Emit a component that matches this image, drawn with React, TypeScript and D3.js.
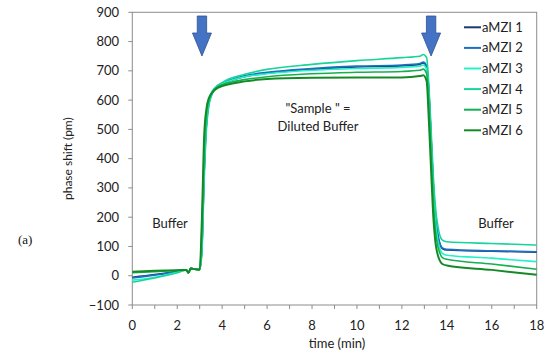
import React from "react";
import * as d3 from "d3";

const times = [0, 1, 2, 2.4, 2.5, 2.6, 2.8, 3.0, 3.1, 3.2, 3.3, 3.4, 3.5, 3.6, 3.8, 4, 5, 6, 8, 10, 12, 12.8, 12.95, 13.1, 13.2, 13.3, 13.4, 13.5, 13.6, 13.7, 13.8, 14, 16, 18];

const aMZI1 = [-5, 4, 15, 20, 10, 25, 22, 21, 100, 355, 518, 586, 613, 630, 648, 656, 680, 692, 705, 713, 717, 722, 727, 714, 628, 468, 308, 198, 138, 106, 93, 88, 84, 80];
const aMZI2 = [-8, 2, 14, 20, 10, 25, 22, 21, 100, 360, 520, 588, 615, 632, 650, 658, 683, 695, 708, 716, 720, 725, 730, 718, 630, 470, 310, 200, 140, 108, 95, 90, 85, 82];
const aMZI3 = [-15, -5, 12, 20, 10, 25, 22, 21, 120, 380, 530, 595, 622, 636, 650, 657, 680, 690, 702, 708, 712, 716, 720, 705, 610, 450, 290, 180, 120, 90, 76, 70, 60, 48];
const aMZI4 = [-22, -8, 10, 19, 10, 25, 22, 21, 80, 330, 500, 575, 610, 628, 648, 660, 688, 705, 722, 735, 745, 750, 756, 745, 650, 500, 340, 230, 170, 135, 122, 116, 110, 105];
const aMZI5 = [10, 14, 18, 20, 10, 25, 22, 21, 170, 440, 555, 600, 620, 632, 645, 652, 670, 680, 690, 695, 698, 702, 706, 690, 580, 410, 250, 150, 100, 75, 62, 56, 40, 22];
const aMZI6 = [14, 17, 19, 20, 10, 25, 22, 21, 200, 480, 570, 605, 620, 630, 642, 648, 664, 672, 676, 677, 677, 682, 685, 665, 530, 360, 200, 110, 70, 50, 40, 35, 20, 3];

const seriesNames = ["aMZI 1", "aMZI 2", "aMZI 3", "aMZI 4", "aMZI 5", "aMZI 6"];
const seriesValues = [aMZI1, aMZI2, aMZI3, aMZI4, aMZI5, aMZI6];
const seriesColors = ["#1F3A6E", "#1E6FC0", "#22F2C8", "#18D49A", "#14B050", "#148A26"];

const yTicks = [-100, 0, 100, 200, 300, 400, 500, 600, 700, 800, 900];
const xTicks = [0, 2, 4, 6, 8, 10, 12, 14, 16, 18];
const xMinorTicks = d3.range(0, 19, 1);
const arrowTimes = [3.1, 13.3];

export default function App() {
  const W = 550, H = 356;
  const x = d3.scaleLinear().domain([0, 18]).range([132.3, 536.7]);
  const y = d3.scaleLinear().domain([-100, 900]).range([305, 12.3]);
  const line = d3.line<number>().x((_, i) => x(times[i])).y((v) => y(v)).curve(d3.curveMonotoneX);
  const font = "Lato, 'Open Sans', sans-serif";
  const axisColor = "#8c8c8c";

  const arrow = (t: number, key: number) => {
    const cx = x(t);
    const top = 16, neck = 33, tip = 56, sw = 4.7, hw = 9.5;
    const pts = [
      [cx - sw, top], [cx + sw, top], [cx + sw, neck], [cx + hw, neck],
      [cx, tip], [cx - hw, neck], [cx - sw, neck],
    ];
    return <polygon key={key} points={pts.map((p) => p.join(",")).join(" ")} fill="#4472C4" stroke="#2F528F" strokeWidth={0.8} />;
  };

  return (
    <svg width={W} height={H} style={{ position: "absolute", left: 0, top: 0 }} fontFamily={font}>
      <rect width={W} height={H} fill="#fff" />
      {/* plot box */}
      <rect x={x(0)} y={y(900)} width={x(18) - x(0)} height={y(-100) - y(900)} fill="none" stroke={axisColor} strokeWidth={1} />
      {yTicks.map((t) => (
        <g key={"y" + t}>
          <line x1={x(0) - 4} x2={x(0)} y1={y(t)} y2={y(t)} stroke={axisColor} />
          <text x={119} y={y(t)} dy="0.35em" textAnchor="end" fontSize={13} fill="#222">
            {t < 0 ? "\u2212" + Math.abs(t) : t}
          </text>
        </g>
      ))}
      {xMinorTicks.map((t) => (
        <line key={"xm" + t} x1={x(t)} x2={x(t)} y1={y(-100)} y2={y(-100) + 4} stroke={axisColor} />
      ))}
      {xTicks.map((t) => (
        <text key={"x" + t} x={x(t)} y={330} textAnchor="middle" fontSize={13} fill="#222">{t}</text>
      ))}
      <text x={337} y={348} textAnchor="middle" fontSize={13} fill="#222">time (min)</text>
      <text transform={`translate(72,${(y(900) + y(-100)) / 2}) rotate(-90)`} textAnchor="middle" fontSize={12} fill="#222">phase shift (pm)</text>
      <text x={18} y={244} fontSize={13} fontFamily="'Liberation Serif', 'DejaVu Serif', serif" fill="#111">(a)</text>

      {seriesValues.map((vals, i) => (
        <path key={seriesNames[i]} d={line(vals) || ""} fill="none" stroke={seriesColors[i]} strokeWidth={i === 5 ? 2 : 1.6} strokeLinejoin="round" />
      ))}

      {arrowTimes.map((t, i) => arrow(t, i))}

      <text x={170} y={223} dy="0.35em" textAnchor="middle" fontSize={13} fill="#222">Buffer</text>
      <text x={496} y={223} dy="0.35em" textAnchor="middle" fontSize={13} fill="#222">Buffer</text>
      <text x={318} y={108} dy="0.35em" textAnchor="middle" fontSize={13} fill="#222">"Sample " =</text>
      <text x={318} y={126} dy="0.35em" textAnchor="middle" fontSize={13} fill="#222">Diluted Buffer</text>

      {seriesNames.map((n, i) => (
        <g key={"lg" + n} transform={`translate(0,${27.3 + i * 20.6})`}>
          <line x1={464} x2={481} y1={0} y2={0} stroke={seriesColors[i]} strokeWidth={2} />
          <text x={482} y={0} dy="0.35em" fontSize={13} fill="#222">{n}</text>
        </g>
      ))}
    </svg>
  );
}
